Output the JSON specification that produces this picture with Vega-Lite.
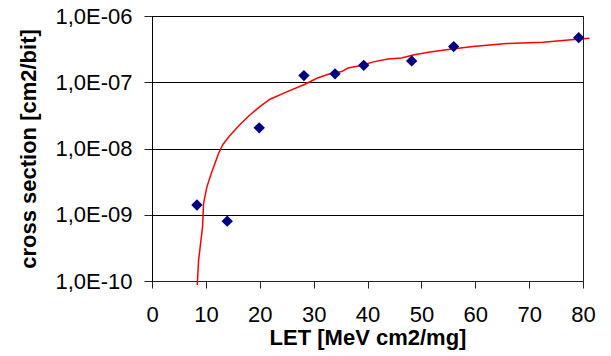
{
  "$schema": "https://vega.github.io/schema/vega-lite/v6.json",
  "width": 431,
  "height": 265,
  "autosize": "none",
  "padding": {"left": 152, "top": 16, "right": 28, "bottom": 75},
  "background": "white",
  "config": {
    "view": {"stroke": "#222222", "strokeWidth": 1},
    "font": "Liberation Sans"
  },
  "datasets": {
    "pts": [
      {"LET": 8.34, "cs": 1.4e-9},
      {"LET": 13.96, "cs": 8.0e-10},
      {"LET": 19.9, "cs": 2.05e-8},
      {"LET": 28.2, "cs": 1.26e-7},
      {"LET": 33.97, "cs": 1.34e-7},
      {"LET": 39.3, "cs": 1.8e-7},
      {"LET": 48.2, "cs": 2.1e-7},
      {"LET": 56.0, "cs": 3.45e-7},
      {"LET": 79.2, "cs": 4.71e-7}
    ],
    "fit": [
      {"LET": 8.4, "cs": 8.7e-11},
      {"LET": 8.65, "cs": 2.07e-10},
      {"LET": 9.39, "cs": 6.6e-10},
      {"LET": 9.57, "cs": 1.48e-9},
      {"LET": 10.19, "cs": 2.64e-9},
      {"LET": 11.0, "cs": 4.2e-9},
      {"LET": 12.35, "cs": 8.4e-9},
      {"LET": 13.16, "cs": 1.15e-8},
      {"LET": 14.5, "cs": 1.59e-8},
      {"LET": 16.2, "cs": 2.25e-8},
      {"LET": 17.9, "cs": 3.07e-8},
      {"LET": 19.95, "cs": 4.25e-8},
      {"LET": 21.9, "cs": 5.54e-8},
      {"LET": 25.0, "cs": 7.15e-8},
      {"LET": 28.4, "cs": 9.33e-8},
      {"LET": 30.6, "cs": 1.15e-7},
      {"LET": 32.7, "cs": 1.32e-7},
      {"LET": 35.2, "cs": 1.45e-7},
      {"LET": 36.4, "cs": 1.64e-7},
      {"LET": 38.6, "cs": 1.78e-7},
      {"LET": 41.1, "cs": 2.03e-7},
      {"LET": 43.8, "cs": 2.25e-7},
      {"LET": 46.3, "cs": 2.33e-7},
      {"LET": 48.5, "cs": 2.58e-7},
      {"LET": 51.6, "cs": 2.86e-7},
      {"LET": 55.3, "cs": 3.14e-7},
      {"LET": 59.6, "cs": 3.45e-7},
      {"LET": 65.8, "cs": 3.83e-7},
      {"LET": 72.6, "cs": 4.01e-7},
      {"LET": 79.4, "cs": 4.5e-7},
      {"LET": 81.2, "cs": 4.61e-7}
    ]
  },
  "encoding": {
    "x": {
      "field": "LET",
      "type": "quantitative",
      "scale": {"domain": [0, 80], "nice": false},
      "axis": {
        "title": "LET [MeV cm2/mg]",
        "values": [0, 10, 20, 30, 40, 50, 60, 70, 80],
        "grid": false,
        "labelFlush": false,
        "domainColor": "#222222",
        "tickColor": "#222222",
        "tickSize": 7,
        "labelFontSize": 22,
        "labelColor": "black",
        "labelPadding": 16,
        "labelFont": "Liberation Sans",
        "titleFont": "Liberation Sans",
        "titleFontSize": 22,
        "titleFontWeight": "bold",
        "titleColor": "black",
        "titlePadding": 2
      }
    },
    "y": {
      "field": "cs",
      "type": "quantitative",
      "scale": {"type": "log", "domain": [1e-10, 1e-6], "nice": false},
      "axis": {
        "title": "cross section [cm2/bit]",
        "values": [1e-10, 1e-9, 1e-8, 1e-7, 1e-6],
        "labelExpr": "'1,0E-' + (round(-log(datum.value)/LN10) < 10 ? '0' : '') + round(-log(datum.value)/LN10)",
        "grid": true,
        "gridColor": "black",
        "gridOpacity": 1,
        "labelFlush": false,
        "domainColor": "black",
        "tickColor": "#222222",
        "tickSize": 8,
        "labelFontSize": 22,
        "labelColor": "black",
        "labelPadding": 12,
        "labelFont": "Liberation Sans",
        "titleFont": "Liberation Sans",
        "titleFontSize": 22,
        "titleFontWeight": "bold",
        "titleColor": "black",
        "titlePadding": 14
      }
    }
  },
  "layer": [
    {
      "data": {"name": "fit"},
      "mark": {"type": "line", "color": "#ff0000", "strokeWidth": 1.5, "clip": false},
      "encoding": {}
    },
    {
      "data": {"name": "pts"},
      "mark": {"type": "point", "shape": "diamond", "filled": true, "color": "#000080", "size": 130, "opacity": 1},
      "encoding": {}
    }
  ]
}
